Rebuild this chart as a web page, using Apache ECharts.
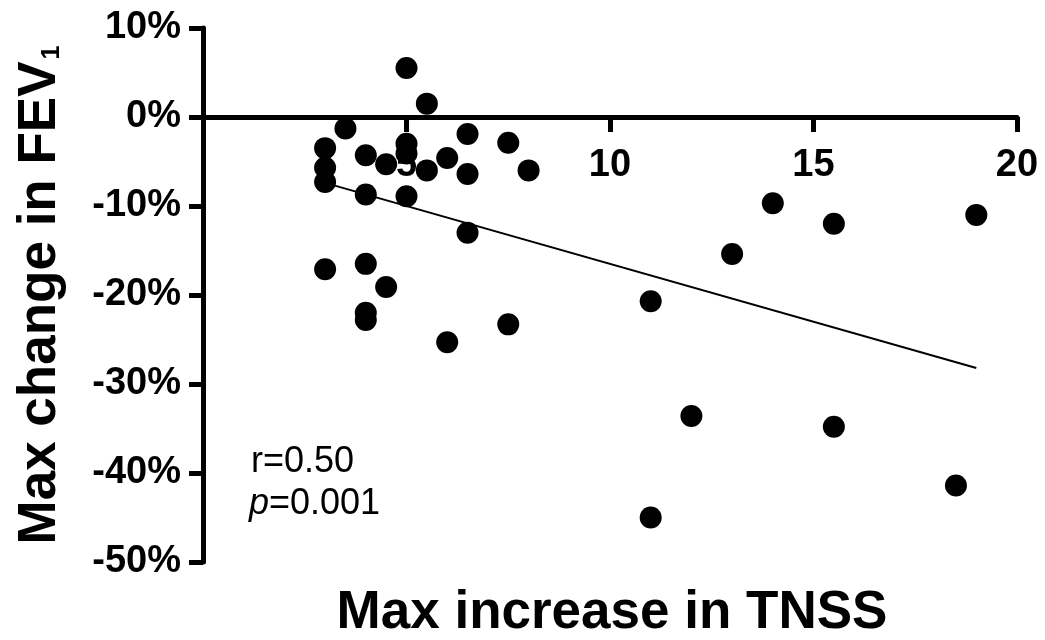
<!DOCTYPE html>
<html><head><meta charset="utf-8">
<script src="https://cdn.jsdelivr.net/npm/echarts@6/dist/echarts.min.js"></script>
<style>html,body{margin:0;padding:0;background:#fff}#c{width:1045px;height:640px}</style>
</head><body><div id="c"></div>
<script>
// Max increase in TNSS (x) vs Max change in FEV1 (%) (y)
const tnss = [5, 5.5, 3.5, 3, 4, 5, 5, 4.5, 5.5, 6, 6.5, 6.5, 7.5, 8, 3, 3, 4, 5, 6.5, 3, 4, 4.5, 4, 4, 6, 7.5, 14, 15.5, 19, 13, 11, 12, 15.5, 18.5, 11];
const fev  = [5.5, 1.5, -1.3, -3.5, -4.3, -3.0, -4.1, -5.3, -6.0, -4.6, -1.9, -6.4, -2.9, -6.0, -5.7, -7.3, -8.7, -8.9, -13.0, -17.1, -16.5, -19.1, -22.0, -22.8, -25.3, -23.3, -9.7, -12.0, -11.0, -15.4, -20.7, -33.6, -34.8, -41.4, -45.0];
// regression line end points
const fitX = [3, 19];
const fitY = [-7.4, -28.2];
const xTicks = [0, 5, 10, 15, 20];
const yTicks = [-50, -40, -30, -20, -10, 0, 10];
const statR = 'r=0.50';
const statP = '0.001';

const FONT = '"Liberation Sans", Arial, Helvetica, sans-serif';
const W = 1045, H = 640;
const grid = {left: 203, right: 28, top: 28, bottom: 78};
const yMin = yTicks[0], yMax = yTicks[yTicks.length - 1];
// move the x axis up so it crosses the y axis at 0
const gridH = H - grid.top - grid.bottom;
const xAxisOffset = -gridH * (0 - yMin) / (yMax - yMin);

const chart = echarts.init(document.getElementById('c'), null, {renderer: 'canvas'});
const points = tnss.map((x, i) => [x, fev[i]]);
const fit = fitX.map((x, i) => [x, fitY[i]]);

const option = {
  animation: false,
  backgroundColor: '#fff',
  grid: Object.assign({containLabel: false}, grid),
  xAxis: {
    type: 'value', min: xTicks[0], max: xTicks[xTicks.length - 1], interval: xTicks[1] - xTicks[0],
    position: 'bottom', offset: xAxisOffset,
    axisLine: {show: true, onZero: false, lineStyle: {color: '#000', width: 5}},
    axisTick: {show: true, length: 15, lineStyle: {color: '#000', width: 5}},
    axisLabel: {margin: 30, fontSize: 38, fontWeight: 'bold', fontFamily: FONT, color: '#000',
      formatter: v => v === 0 ? '' : String(v)},
    splitLine: {show: false}
  },
  yAxis: {
    type: 'value', min: yMin, max: yMax, interval: yTicks[1] - yTicks[0],
    axisLine: {show: true, onZero: false, lineStyle: {color: '#000', width: 5}},
    axisTick: {show: true, length: 14, lineStyle: {color: '#000', width: 5}},
    axisLabel: {margin: 22, fontSize: 38, fontWeight: 'bold', fontFamily: FONT, color: '#000',
      formatter: '{value}%'},
    splitLine: {show: false},
    name: '{t|Max change in FEV}{s|1}',
    nameLocation: 'middle', nameRotate: 90, nameGap: 136,
    nameTextStyle: {
      rich: {
        t: {fontSize: 53, fontWeight: 'bold', fontFamily: FONT, color: '#000'},
        s: {fontSize: 25, fontWeight: 'bold', fontFamily: FONT, color: '#000', padding: [24, 0, 0, 2]}
      }
    }
  },
  graphic: [
    {type: 'text', z: 10,
      style: {x: 612, y: 613, text: 'Max increase in TNSS', font: 'bold 53px ' + FONT, fill: '#000', align: 'center', verticalAlign: 'middle'}},
    {type: 'text', z: 10,
      style: {x: 251, y: 462, text: statR, font: '36px ' + FONT, fill: '#000', align: 'left', verticalAlign: 'middle'}},
    {type: 'text', z: 10,
      style: {x: 249, y: 504, text: '{i|p}{n|=' + statP + '}', fill: '#000', align: 'left', verticalAlign: 'middle',
        rich: {i: {font: 'italic 36px ' + FONT}, n: {font: '36px ' + FONT}}}}
  ],
  series: [
    {type: 'line', data: fit, symbol: 'none', showSymbol: false, silent: true,
      lineStyle: {color: '#000', width: 2}, z: 3},
    {type: 'scatter', data: points, symbol: 'circle', symbolSize: 22,
      itemStyle: {color: '#000', opacity: 1}, z: 4}
  ]
};
chart.setOption(option);
</script>
</body></html>
